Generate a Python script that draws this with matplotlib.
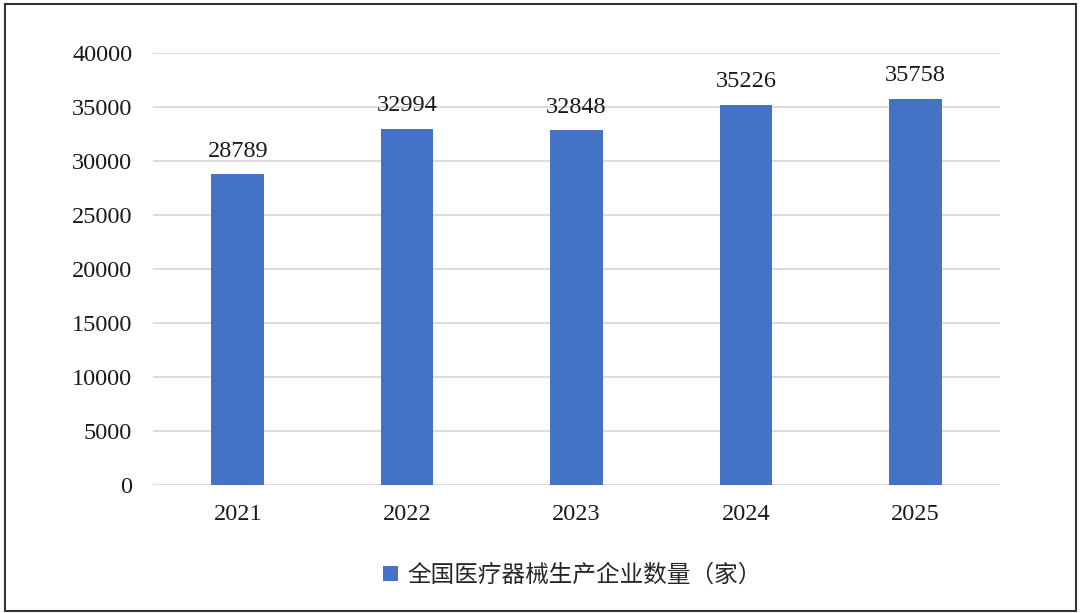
import numpy as np
import matplotlib
matplotlib.use("Agg")
import matplotlib.pyplot as plt
from matplotlib.patches import Rectangle

# data
years = ["2021", "2022", "2023", "2024", "2025"]
counts = [28789, 32994, 32848, 35226, 35758]
series_name = "全国医疗器械生产企业数量（家）"
y_ticks = np.arange(0, 40001, 5000)

plt.rcParams['font.family'] = ['Liberation Serif', 'DejaVu Serif']

fig = plt.figure(figsize=(10.8, 6.13), dpi=100)
ax = fig.add_axes([0.1417, 0.2088, 0.7842, 0.7047])

x = np.arange(len(years))
bars = ax.bar(x, counts, width=0.31, color='#4472C4', zorder=3, label=series_name)
ax.bar_label(bars, labels=[str(v) for v in counts], padding=9, fontsize=17.5, color='#1a1a1a')

ax.set_xlim(-0.5, len(years) - 0.5)
ax.set_ylim(0, 40000)
ax.set_yticks(y_ticks)
ax.set_yticklabels([str(v) for v in y_ticks])
ax.set_xticks(x)
ax.set_xticklabels(years)
ax.tick_params(axis='both', length=0, labelsize=17.5, colors='#1a1a1a')
ax.tick_params(axis='x', pad=14)
ax.tick_params(axis='y', pad=15)

ax.grid(axis='y', color='#d9d9d9', linewidth=1.3, zorder=0)
for s in ax.spines.values():
    s.set_visible(False)

leg = fig.legend(handles=[bars], labels=[series_name], loc='center',
                 bbox_to_anchor=(0.53, 1 - 575 / 613), frameon=False,
                 handlelength=0.6, handleheight=0.6, handletextpad=0.4,
                 prop={'family': ['Noto Sans CJK SC'], 'size': 17})
for t in leg.get_texts():
    t.set_color('#262626')

# outer frame
fig.patches.append(Rectangle((5 / 1080, 2 / 613), 1071 / 1080, 607 / 613,
                             transform=fig.transFigure, fill=False,
                             edgecolor='#333333', linewidth=1.5))

fig.savefig("out.png", dpi=100)
